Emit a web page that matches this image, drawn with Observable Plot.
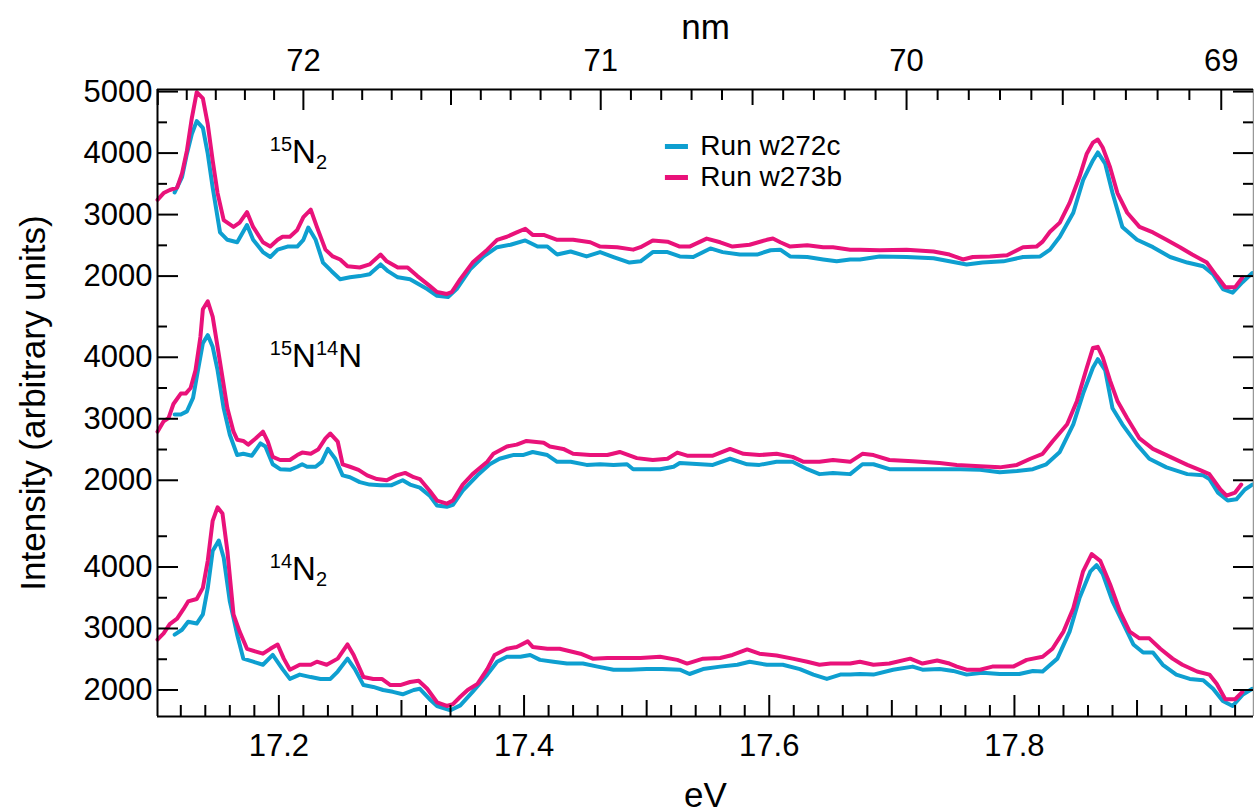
<!DOCTYPE html>
<html>
<head>
<meta charset="utf-8">
<script src="https://cdn.jsdelivr.net/npm/d3@7"></script>
<script src="https://cdn.jsdelivr.net/npm/@observablehq/plot@0.6"></script>
<style>
  html, body { margin: 0; padding: 0; background: #fff; }
  #chart svg { display: block; }
</style>
</head>
<body>
<div id="chart"></div>
<script>
// Photoabsorption spectra of the three nitrogen isotopologues, two runs each.
// Energies in eV, intensities in arbitrary units.

const runs = ["Run w272c", "Run w273b"];
const runColors = ["#0e9fd0", "#e9127a"];

// 15N2
const ev15N2_w272c = [17.115,17.121,17.125,17.129,17.133,17.138,17.142,17.146,17.152,17.158,17.166,17.174,17.179,17.187,17.193,17.199,17.207,17.215,17.220,17.224,17.230,17.236,17.243,17.250,17.258,17.266,17.274,17.283,17.289,17.297,17.307,17.321,17.329,17.338,17.345,17.356,17.367,17.378,17.389,17.401,17.411,17.419,17.427,17.438,17.451,17.462,17.473,17.486,17.495,17.505,17.517,17.527,17.538,17.552,17.562,17.576,17.590,17.601,17.609,17.617,17.631,17.644,17.655,17.666,17.674,17.690,17.712,17.734,17.747,17.761,17.774,17.791,17.807,17.821,17.829,17.837,17.848,17.856,17.864,17.868,17.874,17.880,17.888,17.900,17.913,17.927,17.941,17.954,17.962,17.970,17.978,17.986,17.994];
const int15N2_w272c = [3360,3610,3990,4310,4520,4410,3990,3440,2710,2590,2550,2830,2590,2390,2310,2430,2480,2480,2590,2790,2590,2220,2080,1950,1980,2000,2030,2190,2080,1980,1950,1790,1680,1660,1790,2110,2320,2470,2510,2580,2480,2480,2350,2400,2320,2390,2310,2220,2240,2390,2390,2320,2310,2450,2390,2350,2350,2420,2430,2320,2310,2270,2240,2270,2270,2320,2310,2290,2240,2190,2220,2240,2310,2320,2430,2640,3030,3560,3880,4010,3830,3350,2800,2590,2470,2310,2220,2160,2030,1790,1730,1900,2050];
const ev15N2_w273b = [17.101,17.106,17.111,17.117,17.121,17.125,17.129,17.133,17.138,17.142,17.146,17.150,17.155,17.163,17.168,17.174,17.179,17.187,17.193,17.199,17.203,17.209,17.215,17.220,17.226,17.231,17.238,17.244,17.250,17.256,17.266,17.274,17.283,17.288,17.297,17.305,17.313,17.323,17.329,17.337,17.341,17.348,17.358,17.370,17.378,17.386,17.394,17.401,17.407,17.416,17.427,17.440,17.454,17.462,17.476,17.489,17.495,17.505,17.517,17.527,17.535,17.549,17.560,17.570,17.584,17.598,17.603,17.609,17.617,17.631,17.644,17.652,17.666,17.674,17.690,17.712,17.734,17.747,17.758,17.766,17.780,17.794,17.807,17.818,17.823,17.829,17.837,17.845,17.853,17.859,17.864,17.868,17.872,17.878,17.884,17.892,17.902,17.913,17.924,17.935,17.945,17.957,17.965,17.972,17.980,17.986];
const int15N2_w273b = [3240,3350,3400,3440,3670,4040,4570,4990,4890,4470,3880,3350,2910,2800,2870,3040,2800,2550,2480,2590,2640,2640,2750,2960,3080,2800,2430,2320,2270,2160,2140,2190,2350,2240,2140,2140,2000,1840,1740,1710,1740,1950,2220,2430,2590,2640,2710,2770,2670,2670,2590,2590,2550,2480,2470,2430,2470,2580,2560,2480,2480,2610,2550,2480,2510,2590,2610,2550,2480,2500,2470,2470,2430,2430,2420,2430,2400,2350,2270,2310,2320,2340,2470,2480,2560,2720,2870,3190,3610,3990,4170,4220,4090,3770,3350,3030,2800,2710,2590,2470,2350,2220,2000,1820,1820,1980];

// 15N14N
const ev15N14N_w272c = [17.115,17.120,17.125,17.130,17.134,17.138,17.142,17.146,17.150,17.155,17.160,17.166,17.171,17.178,17.185,17.189,17.195,17.201,17.209,17.215,17.219,17.223,17.230,17.235,17.240,17.246,17.252,17.258,17.266,17.274,17.283,17.292,17.301,17.307,17.315,17.323,17.329,17.337,17.342,17.350,17.362,17.372,17.380,17.391,17.399,17.407,17.419,17.427,17.438,17.451,17.462,17.473,17.484,17.489,17.500,17.511,17.522,17.527,17.544,17.554,17.568,17.582,17.592,17.606,17.619,17.631,17.641,17.652,17.666,17.676,17.685,17.698,17.717,17.739,17.756,17.772,17.788,17.802,17.815,17.826,17.837,17.848,17.856,17.864,17.868,17.874,17.880,17.888,17.900,17.910,17.924,17.941,17.954,17.959,17.966,17.974,17.981,17.988,17.994];
const int15N14N_w272c = [3070,3070,3120,3340,3790,4230,4360,4170,3790,3170,2740,2410,2430,2400,2600,2550,2260,2180,2170,2220,2260,2220,2220,2300,2510,2350,2080,2050,1970,1930,1920,1920,2000,1930,1880,1750,1590,1570,1600,1830,2080,2260,2350,2410,2410,2460,2410,2300,2300,2250,2260,2250,2260,2180,2180,2180,2220,2280,2260,2250,2350,2260,2250,2300,2300,2180,2100,2120,2100,2260,2260,2180,2180,2180,2180,2170,2130,2150,2180,2260,2460,2910,3410,3830,3970,3790,3170,2910,2580,2350,2210,2100,2080,2020,1800,1670,1690,1850,1930];
const ev15N14N_w273b = [17.101,17.106,17.110,17.114,17.120,17.124,17.128,17.132,17.136,17.138,17.142,17.146,17.150,17.154,17.158,17.163,17.166,17.171,17.175,17.181,17.187,17.191,17.195,17.201,17.209,17.215,17.219,17.226,17.232,17.238,17.242,17.248,17.252,17.258,17.265,17.272,17.280,17.288,17.296,17.303,17.310,17.315,17.323,17.329,17.337,17.342,17.350,17.358,17.370,17.375,17.386,17.394,17.402,17.416,17.421,17.432,17.440,17.454,17.468,17.478,17.492,17.505,17.517,17.525,17.533,17.544,17.554,17.568,17.579,17.592,17.606,17.619,17.628,17.641,17.652,17.666,17.676,17.685,17.698,17.717,17.739,17.753,17.772,17.788,17.802,17.813,17.823,17.831,17.843,17.851,17.859,17.864,17.868,17.872,17.878,17.884,17.892,17.902,17.913,17.927,17.941,17.951,17.959,17.968,17.973,17.980,17.985];
const int15N14N_w273b = [2790,2960,3010,3240,3410,3410,3500,3790,4330,4780,4910,4660,4170,3670,3170,2790,2660,2640,2580,2680,2790,2630,2380,2330,2330,2410,2450,2430,2500,2680,2760,2630,2260,2220,2170,2080,2020,2000,2080,2120,2050,2020,1830,1670,1620,1670,1930,2100,2300,2430,2550,2580,2640,2610,2550,2510,2430,2410,2410,2460,2360,2330,2350,2450,2400,2400,2400,2510,2430,2410,2430,2380,2300,2300,2330,2300,2430,2410,2330,2310,2280,2250,2230,2210,2250,2350,2430,2630,2910,3290,3830,4150,4170,4000,3620,3290,3010,2680,2510,2380,2250,2170,2100,1850,1750,1800,1930];

// 14N2
const ev14N2_w272c = [17.115,17.121,17.126,17.133,17.138,17.142,17.146,17.151,17.155,17.160,17.166,17.171,17.179,17.187,17.195,17.203,17.209,17.217,17.226,17.234,17.242,17.248,17.256,17.262,17.269,17.277,17.285,17.293,17.301,17.310,17.315,17.323,17.329,17.340,17.348,17.358,17.370,17.378,17.386,17.397,17.405,17.413,17.424,17.435,17.448,17.460,17.473,17.486,17.500,17.513,17.527,17.535,17.546,17.560,17.574,17.584,17.598,17.611,17.625,17.636,17.647,17.658,17.666,17.674,17.685,17.701,17.717,17.725,17.739,17.750,17.761,17.774,17.788,17.804,17.815,17.823,17.835,17.845,17.853,17.862,17.867,17.872,17.880,17.889,17.897,17.905,17.913,17.921,17.932,17.943,17.954,17.962,17.970,17.978,17.986,17.994];
const int14N2_w272c = [2900,2980,3110,3080,3230,3660,4260,4430,4150,3440,2900,2510,2460,2410,2570,2340,2180,2250,2210,2180,2180,2300,2510,2340,2080,2050,2000,1970,1930,2000,2020,1850,1740,1670,1750,1970,2250,2460,2540,2540,2570,2490,2460,2430,2430,2380,2330,2330,2340,2340,2330,2260,2340,2380,2410,2460,2410,2410,2340,2250,2180,2250,2250,2260,2250,2330,2380,2330,2340,2310,2250,2280,2260,2260,2310,2300,2510,2950,3490,3930,4030,3890,3440,3070,2740,2610,2610,2410,2250,2180,2160,2020,1820,1740,1920,2020];
const ev14N2_w273b = [17.101,17.106,17.111,17.117,17.122,17.126,17.133,17.138,17.142,17.146,17.150,17.154,17.158,17.163,17.168,17.174,17.182,17.187,17.193,17.199,17.204,17.209,17.217,17.226,17.231,17.239,17.248,17.256,17.261,17.269,17.277,17.284,17.291,17.299,17.307,17.314,17.321,17.329,17.337,17.342,17.348,17.354,17.362,17.370,17.376,17.386,17.394,17.403,17.407,17.419,17.429,17.446,17.456,17.468,17.484,17.495,17.511,17.525,17.533,17.546,17.560,17.570,17.582,17.592,17.606,17.619,17.631,17.641,17.650,17.666,17.674,17.685,17.698,17.715,17.725,17.737,17.747,17.753,17.761,17.772,17.782,17.799,17.810,17.823,17.831,17.840,17.848,17.856,17.863,17.870,17.878,17.886,17.894,17.902,17.910,17.919,17.929,17.937,17.949,17.959,17.965,17.972,17.980,17.986];
const int14N2_w273b = [2820,2920,3070,3160,3310,3440,3480,3660,4100,4750,4970,4870,4260,3230,2950,2670,2620,2590,2670,2740,2510,2330,2410,2410,2460,2410,2510,2740,2570,2210,2180,2180,2080,2080,2130,2150,2020,1800,1740,1770,1890,2000,2100,2340,2570,2670,2700,2790,2700,2670,2670,2590,2510,2520,2520,2520,2540,2490,2430,2510,2520,2570,2660,2590,2560,2510,2460,2410,2430,2430,2460,2410,2430,2510,2430,2480,2430,2380,2330,2330,2380,2380,2490,2540,2670,2950,3330,3930,4210,4100,3720,3280,2950,2840,2840,2670,2510,2410,2300,2250,2100,1850,1850,1970];

// Axis tick values
const eVMajorTicks = [17.2, 17.4, 17.6, 17.8];
const nmMajorTicks = [72, 71, 70, 69];
const HC = 1239.84; // eV·nm, converts wavelength to photon energy

// Stacked panels: each spectrum is lifted by an offset on a shared y scale
const panels = [
  {
    parts: [["15", "sup"], ["N", ""], ["2", "sub"]],
    offset: 6730, labelLevel: 3830,
    majors: [2000, 3000, 4000, 5000], minors: [2500, 3500, 4500],
    series: [[ev15N2_w272c, int15N2_w272c], [ev15N2_w273b, int15N2_w273b]]
  },
  {
    parts: [["15", "sup"], ["N", ""], ["14", "sup"], ["N", ""]],
    offset: 3410, labelLevel: 3830,
    majors: [2000, 3000, 4000], minors: [2500, 3500, 4500],
    series: [[ev15N14N_w272c, int15N14N_w272c], [ev15N14N_w273b, int15N14N_w273b]]
  },
  {
    parts: [["14", "sup"], ["N", ""], ["2", "sub"]],
    offset: 0, labelLevel: 3780,
    majors: [2000, 3000, 4000], minors: [2500, 3500, 4500],
    series: [[ev14N2_w272c, int14N2_w272c], [ev14N2_w273b, int14N2_w273b]]
  }
];

const width = 1254, height = 812;
const margin = {top: 89, right: 1, bottom: 96, left: 157};
const frameW = width - margin.left - margin.right;
const frameH = height - margin.top - margin.bottom;
const xDomain = [17.101, 17.995];
const yDomain = [1569, 11764];
const font = '"Liberation Sans", Arial, Helvetica, sans-serif';
const labelEv = 17.193;

const rows = panels.flatMap((p, pi) => runs.flatMap((run, r) => {
  const [ev, val] = p.series[r];
  return ev.map((e, i) => ({ev: e, intensity: val[i], stack: val[i] + p.offset, run, key: pi + run}));
}));

const yMajor = panels.flatMap(p => p.majors.map(v => ({stack: v + p.offset, label: String(v)})));
const yMinor = panels.flatMap(p => p.minors.map(v => ({stack: v + p.offset})));

// bottom axis: every 0.02 eV, longer at 0.1 and labelled at 0.2
const evTicks = d3.range(1712, 1800, 2).map(k => ({ev: k / 100, kind: k % 20 === 0 ? 2 : k % 10 === 0 ? 1 : 0}));
// top axis: every 0.1 nm, longer at 0.5 and labelled at whole nm
const nmTicks = d3.range(690, 726).map(k => ({ev: HC / (k / 10), kind: k % 10 === 0 ? 2 : k % 5 === 0 ? 1 : 0}));
const tickLen = [11, 16, 21];

const legendRows = runs.map((run, i) => ({run, x1: 17.5153, x2: 17.5341, xt: 17.5438, y: [10837, 10333][i]}));

// isotopologue names with super/subscripts, placed through the scales
function isotopeLabels(index, scales) {
  const ns = "http://www.w3.org/2000/svg";
  const g = document.createElementNS(ns, "g");
  g.setAttribute("font-family", font);
  g.setAttribute("fill", "black");
  g.setAttribute("text-anchor", "start");
  for (const p of panels) {
    const t = document.createElementNS(ns, "text");
    t.setAttribute("x", scales.x(labelEv));
    t.setAttribute("y", scales.y(p.labelLevel + p.offset));
    t.setAttribute("font-size", 33);
    t.setAttribute("text-anchor", "start");
    let shift = 0;
    for (const [s, kind] of p.parts) {
      const ts = document.createElementNS(ns, "tspan");
      const target = kind === "sup" ? -12 : kind === "sub" ? 6 : 0;
      ts.setAttribute("dy", target - shift);
      shift = target;
      if (kind) ts.setAttribute("font-size", 20);
      ts.textContent = s;
      t.appendChild(ts);
    }
    g.appendChild(t);
  }
  return g;
}

const tickStyle = {stroke: "black", strokeWidth: 2};
const textStyle = {lineAnchor: "middle", fill: "black"};

const chart = Plot.plot({
  width, height,
  marginTop: margin.top, marginRight: margin.right, marginBottom: margin.bottom, marginLeft: margin.left,
  style: {fontFamily: font, fontSize: "31px", background: "#fff", color: "black", overflow: "visible"},
  x: {domain: xDomain, axis: null},
  y: {domain: yDomain, axis: null},
  color: {domain: runs, range: runColors},
  marks: [
    // spectra
    Plot.line(rows, {x: "ev", y: "stack", z: "key", stroke: "run", strokeWidth: 4, strokeLinejoin: "round", strokeLinecap: "round"}),

    // frame
    Plot.ruleX([xDomain[0]], {stroke: "black", strokeWidth: 2}),
    Plot.ruleX([xDomain[1]], {stroke: "#999", strokeWidth: 1.5}),
    Plot.ruleY([yDomain[0]], {stroke: "black", strokeWidth: 2}),
    Plot.ruleY([yDomain[1]], {stroke: "black", strokeWidth: 2}),

    // left and right intensity ticks (inside)
    Plot.tickY(yMajor, {y: "stack", insetRight: frameW - 21, ...tickStyle}),
    Plot.tickY(yMinor, {y: "stack", insetRight: frameW - 10, ...tickStyle}),
    Plot.tickY(yMajor, {y: "stack", insetLeft: frameW - 20, ...tickStyle}),
    Plot.tickY(yMinor, {y: "stack", insetLeft: frameW - 10, ...tickStyle}),
    Plot.text(yMajor, {y: "stack", text: "label", frameAnchor: "left", textAnchor: "end", dx: -5, fontSize: 31, ...textStyle}),

    // bottom eV ticks
    ...[0, 1, 2].map(kind => Plot.tickX(evTicks.filter(d => d.kind === kind), {x: "ev", insetTop: frameH - tickLen[kind], ...tickStyle})),
    Plot.text(eVMajorTicks, {x: d => d, text: d => d.toFixed(1), frameAnchor: "bottom", dy: 30, fontSize: 31, ...textStyle}),

    // top nm ticks
    ...[0, 1, 2].map(kind => Plot.tickX(nmTicks.filter(d => d.kind === kind), {x: "ev", insetBottom: frameH - tickLen[kind], ...tickStyle})),
    Plot.text(nmMajorTicks, {x: d => HC / d, text: d => String(d), frameAnchor: "top", dy: -28, fontSize: 31, ...textStyle}),

    // axis titles
    Plot.text(["eV"], {text: d => d, frameAnchor: "bottom", dy: 79, fontSize: 35, ...textStyle}),
    Plot.text(["nm"], {text: d => d, frameAnchor: "top", dy: -62, fontSize: 35, ...textStyle}),
    Plot.text(["Intensity (arbitrary units)"], {text: d => d, frameAnchor: "left", textAnchor: "middle", rotate: -90, dx: -124, fontSize: 35, ...textStyle}),

    // legend
    Plot.ruleY(legendRows, {y: "y", x1: "x1", x2: "x2", stroke: "run", strokeWidth: 5}),
    Plot.text(legendRows, {x: "xt", y: "y", text: "run", textAnchor: "start", fontSize: 28, ...textStyle}),

    // panel labels
    isotopeLabels
  ]
});

document.getElementById("chart").appendChild(chart);
</script>
</body>
</html>
